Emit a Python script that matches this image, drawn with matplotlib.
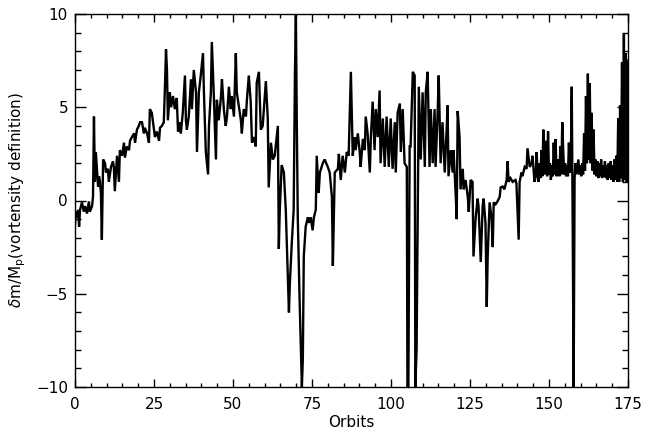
import matplotlib
matplotlib.use("Agg")
import matplotlib.pyplot as plt
from matplotlib.ticker import MultipleLocator

orbits = [
    0.0, 0.3, 0.6, 1.0, 1.3, 1.6, 2.2, 2.8, 3.2, 3.8, 4.4, 4.7, 5.4, 5.7, 6.0, 6.3, 6.6, 7.3, 7.6, 7.9,
    8.2, 8.5, 8.9, 9.5, 9.8, 10.4, 10.7, 11.4, 12.0, 12.3, 12.6, 13.3, 13.9, 14.2, 14.9, 15.5, 15.8, 16.4,
    17.1, 17.4, 18.0, 18.7, 19.0, 19.6, 20.2, 20.6, 21.2, 21.8, 22.1, 22.8, 23.4, 23.7, 24.3, 25.0, 25.3,
    25.9, 26.6, 26.9, 27.5, 28.1, 28.5, 28.8, 29.1, 29.4, 30.0, 30.4, 31.0, 31.6, 32.2, 32.6, 33.2, 33.5,
    34.1, 34.8, 35.1, 35.4, 36.0, 36.7, 37.0, 37.6, 38.3, 38.6, 39.2, 39.8, 40.5, 40.8, 41.4, 42.1, 42.4,
    43.0, 43.3, 43.9, 44.6, 44.9, 45.5, 46.2, 46.5, 47.1, 47.7, 48.1, 48.7, 49.3, 49.6, 50.3, 50.9, 51.2,
    51.9, 52.5, 52.8, 53.4, 54.1, 54.4, 55.0, 55.6, 56.0, 56.6, 57.2, 57.5, 58.2, 58.8, 59.4, 60.4, 61.0,
    61.3, 62.0, 62.6, 63.2, 64.2, 64.5, 64.8, 65.4, 66.1, 66.7, 67.0, 67.7, 68.0, 68.6, 69.2, 69.6, 69.9,
    70.2, 70.5, 70.8, 71.1, 71.8, 72.1, 72.4, 73.0, 73.7, 74.0, 74.6, 75.2, 75.6, 76.2, 76.5, 77.1, 77.5,
    78.4, 79.0, 80.0, 80.6, 81.3, 81.6, 82.2, 83.2, 83.5, 84.1, 84.7, 85.4, 86.0, 86.6, 87.3, 87.9, 88.5,
    88.8, 89.5, 90.1, 90.4, 91.1, 91.7, 92.0, 92.6, 93.3, 93.6, 94.2, 94.8, 95.2, 95.8, 96.4, 96.7, 97.4,
    98.0, 98.6, 99.3, 99.9, 100.5, 101.2, 101.5, 102.1, 102.8, 103.1, 103.7, 104.3, 105.0, 105.2, 105.5,
    105.9, 106.2, 106.9, 107.5, 107.7, 108.1, 108.8, 109.4, 110.0, 110.7, 111.0, 111.6, 112.2, 112.6,
    113.2, 113.8, 114.1, 114.8, 115.1, 115.7, 116.3, 117.0, 117.6, 117.9, 118.2, 118.9, 119.5, 119.8,
    120.5, 120.8, 121.1, 121.7, 122.0, 122.7, 123.0, 123.6, 124.3, 124.6, 125.2, 125.8, 126.1, 126.8,
    127.4, 127.7, 128.4, 129.0, 129.3, 129.9, 130.3, 130.6, 131.2, 131.8, 132.2, 132.5, 133.1, 133.7,
    134.4, 134.7, 135.3, 135.9, 136.6, 136.9, 137.2, 137.8, 138.5, 139.4, 139.7, 140.4, 140.7, 141.3,
    141.6, 142.3, 142.9, 143.2, 143.9, 144.5, 144.8, 145.4,
    145.8, 146.1, 146.4, 146.7, 147.0, 147.3, 147.6, 147.9, 148.2, 148.5, 148.8, 149.1, 149.4, 149.7,
    150.0, 150.3, 150.6, 150.9, 151.2, 151.5, 151.8, 152.1, 152.4, 152.7, 153.0, 153.3, 153.6, 153.9,
    154.2, 154.5, 154.8, 155.1, 155.4, 155.7, 156.0, 156.3, 156.6, 156.9, 157.2, 157.5, 157.8, 158.1,
    158.4, 158.7, 159.0, 159.3, 159.6, 159.9, 160.2, 160.5, 160.8, 161.1, 161.4, 161.7, 162.0, 162.3,
    162.6, 162.9, 163.2, 163.5, 163.8, 164.1, 164.4, 164.7, 165.0, 165.3, 165.6, 165.9, 166.2, 166.5,
    166.8, 167.1, 167.4, 167.7, 168.0, 168.3, 168.6, 168.9, 169.2, 169.5, 169.8, 170.1, 170.4, 170.7,
    171.0, 171.3, 171.6, 171.9, 172.2, 172.5, 172.8, 173.1, 173.4, 173.7, 174.0, 174.3, 174.6, 174.9,
]

dm = [
    -1.3, -0.6, -0.9, -0.5, -1.4, -0.5, -0.1, -0.6, -0.3, -0.7, -0.05, -0.6, -0.3, 0.2, 4.5, 1.0, 2.6, 0.75, 1.3, 1.0,
    0.4, -2.1, 2.2, 2.0, 1.5, 1.7, 1.0, 1.8, 2.1, 1.8, 0.5, 2.4, 1.0, 2.7, 2.4, 3.1, 2.3, 2.9,
    2.7, 3.2, 3.4, 3.6, 3.1, 3.8, 4.0, 4.2, 4.2, 3.6, 3.9, 3.6, 3.1, 4.9, 4.7, 3.8, 3.4,
    3.7, 3.2, 3.9, 4.0, 4.2, 6.3, 8.1, 7.0, 4.3, 5.8, 5.0, 5.6, 4.9, 5.5, 3.7, 4.2, 3.6,
    4.7, 6.7, 4.3, 3.8, 4.5, 6.5, 4.9, 7.0, 5.8, 2.6, 5.8, 6.7, 7.9, 5.8, 2.6, 1.4, 4.0,
    5.8, 8.5, 5.8, 2.2, 5.4, 4.3, 5.6, 6.5, 4.9, 4.0, 4.5, 6.1, 4.9, 5.6, 4.5, 7.9, 5.8,
    5.0, 4.3, 3.6, 4.9, 4.5, 5.4, 6.7, 5.3, 3.1, 3.4, 2.9, 6.3, 6.9, 3.8, 4.0, 6.4, 4.4,
    0.7, 3.1, 2.2, 2.4, 4.0, -2.6, -0.5, 1.9, 1.5, -0.5, -2.1, -6.0, -4.4, -2.3, -0.5, 6.8, 10.0,
    4.0, -0.9, -3.3, -5.5, -10.0, -8.5, -3.0, -1.4, -0.9, -1.2, -0.9, -1.6, -0.9, -0.5, 2.4, 0.4, 1.5,
    2.0, 2.2, 1.8, 1.5, 0.2, -3.5, 1.5, 1.7, 2.5, 1.1, 2.4, 1.5, 2.6, 2.4, 6.9, 2.4, 3.4,
    2.7, 3.6, 2.6, 1.8, 3.3, 2.7, 4.5, 3.6, 1.5, 3.3, 5.3, 2.7, 4.9, 3.4, 5.9, 2.0, 4.4,
    1.8, 4.5, 1.8, 4.4, 1.7, 4.2, 1.5, 4.7, 5.2, 2.6, 4.9, 2.0, 1.8, -10.0, -10.0,
    2.9, 2.9, 6.9, 6.7, -10.0, -8.0, 6.1, 2.2, 5.8, 1.8, 5.8, 6.9, 1.8, 4.9,
    2.0, 4.9, 1.8, 4.9, 6.7, 2.0, 4.2, 1.5, 3.8, 5.1, 1.3, 2.7, 1.5, 2.7,
    0.2, -1.0, 4.8, 3.4, 0.6, 1.7, 0.6, 1.1, 0.2, -0.6, 1.1, 1.0, -3.0, -0.9,
    0.1, -0.3, -3.3, -0.3, 0.1, -1.2, -5.7, -3.0, -0.1, -0.9, -2.5, -0.1, -0.2, -0.05,
    0.2, 0.7, 0.75, 0.6, 1.1, 2.1, 1.0, 1.2, 1.0, 1.1, 0.9, -2.1, 1.0, 1.5,
    1.3, 1.8, 1.7, 2.8, 1.8, 2.0, 2.4, 1.0,
    1.3, 2.6, 1.4, 1.0, 2.0, 1.2, 2.7, 1.3, 3.8, 1.4, 2.0, 3.2, 1.3, 3.7,
    1.4, 2.0, 1.1, 1.9, 1.3, 3.1, 1.4, 3.3, 1.3, 2.0, 2.2, 1.3, 2.9, 1.4,
    4.2, 2.7, 1.4, 2.0, 1.3, 1.9, 1.3, 3.1, 1.5, 2.2, 6.1, -1.4, -10.0, 1.2,
    2.0, 1.4, 1.8, 2.2, 1.4, 1.9, 1.3, 2.0, 1.4, 3.6, 1.6, 5.6, 2.0, 6.8,
    2.2, 6.3, 2.0, 4.7, 1.6, 3.8, 1.4, 2.2, 1.3, 2.1, 1.2, 2.0, 1.3, 2.2,
    1.2, 1.9, 1.3, 2.1, 1.2, 1.9, 1.1, 2.0, 1.2, 2.1, 1.1, 1.9, 1.0, 2.2,
    1.1, 2.4, 1.0, 4.4, 1.0, 5.1, 1.2, 7.4, 1.0, 8.9, 1.1, 7.9, 1.0, 7.5,
]

xticks = [0, 25, 50, 75, 100, 125, 150, 175]
yticks = [-10, -5, 0, 5, 10]

fig = plt.figure(figsize=(6.48, 4.32), dpi=100)
ax = fig.add_axes([75/648, 1 - 387/432, 553/648, 373/432])
ax.plot(orbits, dm, color='black', linewidth=1.7, solid_joinstyle='miter')
ax.set_xlim(0, 175)
ax.set_ylim(-10, 10)
ax.set_xticks(xticks)
ax.set_yticks(yticks)
ax.xaxis.set_minor_locator(MultipleLocator(5))
ax.yaxis.set_minor_locator(MultipleLocator(1))
ax.tick_params(axis='both', which='both', direction='in', top=True, right=True,
               labelsize=11, width=1.0, color='black')
ax.tick_params(axis='x', which='major', length=6, pad=7)
ax.tick_params(axis='x', which='minor', length=3)
ax.tick_params(axis='y', which='major', length=8, pad=5)
ax.tick_params(axis='y', which='minor', length=4.5)
for s in ax.spines.values():
    s.set_linewidth(1.0)
ax.set_xlabel('Orbits', fontsize=11)
ax.set_ylabel(r'$\delta$m/M$_{\rm p}$(vortensity definition)', fontsize=11)
ax.xaxis.set_label_coords(0.5, -0.075)
ax.yaxis.set_label_coords(-0.085, 0.5)
fig.savefig('out.png', dpi=100)
